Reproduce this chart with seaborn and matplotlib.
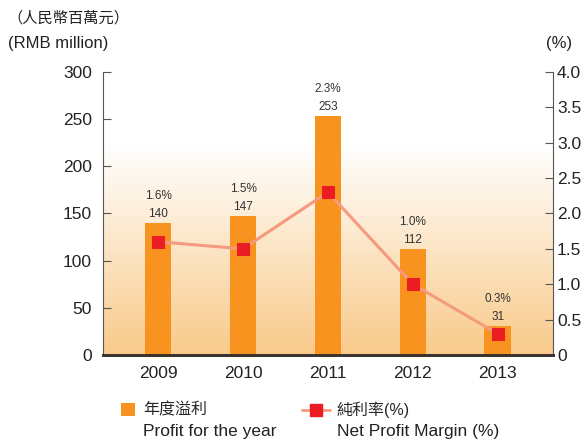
import numpy as np
import pandas as pd
import matplotlib
matplotlib.use('Agg')
import matplotlib.pyplot as plt
from matplotlib.lines import Line2D
from matplotlib.patches import Patch
import seaborn as sns

years = ['2009', '2010', '2011', '2012', '2013']
profit = [140, 147, 253, 112, 31]
margin = [1.6, 1.5, 2.3, 1.0, 0.3]
margin_labels = ['1.6%', '1.5%', '2.3%', '1.0%', '0.3%']

sns.set_style('white')
plt.rcParams['font.family'] = ['Liberation Sans', 'Noto Sans CJK TC']

df = pd.DataFrame({'year': years, 'profit': profit, 'margin': margin})

fig = plt.figure(figsize=(5.85, 4.41), dpi=100)
ax = fig.add_axes([0.176, 0.195, 0.769, 0.642])

# background gradient (white -> light orange)
grad = np.linspace(0, 1, 256).reshape(-1, 1)
top_c = np.array([1.0, 1.0, 1.0])
bot_c = np.array([249, 202, 138]) / 255
img = (1 - grad)[..., None] * bot_c + grad[..., None] * top_c
img = img[:, 0, :][:, None, :]
ax.imshow(img, extent=[-0.65, 4.65, 0, 222], aspect='auto', origin='lower', zorder=0)

sns.barplot(data=df, x='year', y='profit', color='#F7931E', saturation=1,
            width=0.31, linewidth=0, ax=ax, zorder=2)
ax.set_xlim(-0.65, 4.65)
ax.set_ylim(0, 300)
ax.set_yticks(range(0, 301, 50))
ax.set_xlabel('')
ax.set_ylabel('')

ax2 = ax.twinx()
sns.lineplot(x=np.arange(len(years)), y=margin, ax=ax2, color='#F59A7E', lw=2.2,
             marker='s', markersize=8, markerfacecolor='#EC1C24',
             markeredgecolor='#EC1C24', zorder=3)
ax2.set_ylim(0, 4.0)
ax2.set_yticks(np.arange(0, 4.01, 0.5))
ax2.set_yticklabels(['0'] + ['%.1f' % v for v in np.arange(0.5, 4.01, 0.5)])
ax2.set_xlim(-0.65, 4.65)

for i, (p, m) in enumerate(zip(profit, margin_labels)):
    ax.annotate(str(p), (i, p), xytext=(0, 6.5), textcoords='offset points',
                ha='center', va='center', fontsize=8.5, color='#333333')
    ax.annotate(m, (i, p), xytext=(0, 19.5), textcoords='offset points',
                ha='center', va='center', fontsize=8.5, color='#333333')

for a in (ax, ax2):
    a.spines['top'].set_visible(False)
    a.spines['left'].set_color('#555555')
    a.spines['right'].set_color('#555555')
    a.spines['bottom'].set_color('#3a3330')
    a.spines['bottom'].set_linewidth(2)
ax2.spines['left'].set_visible(False)
ax.spines['right'].set_visible(False)

ax.tick_params(axis='y', direction='in', length=6, color='#555555', labelsize=12.5,
               labelcolor='#222222', pad=8, left=True)
ax.tick_params(axis='x', length=0, labelsize=12.5, labelcolor='#222222', pad=8)
ax2.tick_params(axis='y', direction='in', length=6, color='#555555', labelsize=12.5,
                labelcolor='#222222', pad=3, right=True)

fig.text(0.012, 0.958, '（人民幣百萬元）', fontsize=11, color='#222222', va='center')
fig.text(0.014, 0.902, '(RMB million)', fontsize=12, color='#222222', va='center')
fig.text(0.934, 0.902, '(%)', fontsize=12, color='#222222', va='center')

bar_handle = Patch(facecolor='#F7931E', edgecolor='none')
line_handle = Line2D([], [], color='#F59A7E', lw=2, marker='s', markersize=8,
                     markerfacecolor='#EC1C24', markeredgecolor='#EC1C24')
fig.legend([bar_handle], ['年度溢利'], loc='center left',
           bbox_to_anchor=(0.207, 0.070), frameon=False, fontsize=11.5,
           borderpad=0, borderaxespad=0, handlelength=0.88,
           handleheight=0.88, handletextpad=0.48)
fig.legend([line_handle], ['純利率(%)'], loc='center left',
           bbox_to_anchor=(0.516, 0.070), frameon=False, fontsize=11.5,
           borderpad=0, borderaxespad=0, handlelength=1.75, handletextpad=0.42)
fig.text(0.244, 0.021, 'Profit for the year', fontsize=12.5, color='#222222', va='center')
fig.text(0.576, 0.021, 'Net Profit Margin (%)', fontsize=12.5, color='#222222', va='center')

fig.savefig('out.png', dpi=100)
